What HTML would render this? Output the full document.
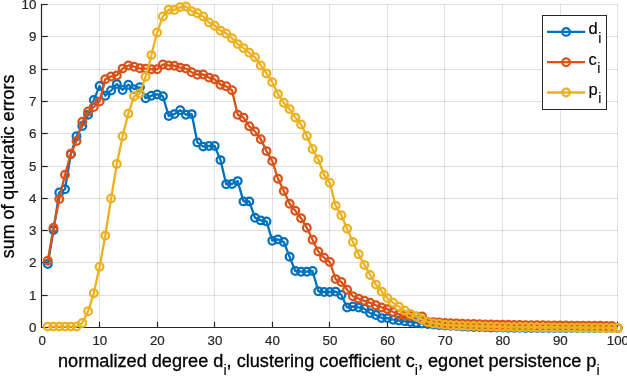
<!DOCTYPE html>
<html><head><meta charset="utf-8"><title>plot</title>
<style>
html,body{margin:0;padding:0;background:#fff;}
body{width:627px;height:376px;overflow:hidden;}
svg{display:block;font-family:"Liberation Sans",Arial,Helvetica,sans-serif;}
.t{font-size:13.33px;fill:#262626;stroke:#262626;stroke-width:0.2px;}
.l{font-size:18.15px;fill:#000;stroke:#000;stroke-width:0.3px;}
.s{font-size:14.2px;stroke-width:0.1px;}
.lg{font-size:16.5px;fill:#000;stroke:#000;stroke-width:0.15px;}
</style></head><body>
<svg width="627" height="376" viewBox="0 0 627 376">
<rect width="627" height="376" fill="#fff"/>
<g stroke="#262626" stroke-opacity="0.14" stroke-width="1"><line x1="99.5" y1="4.5" x2="99.5" y2="327.5"/><line x1="157.5" y1="4.5" x2="157.5" y2="327.5"/><line x1="214.5" y1="4.5" x2="214.5" y2="327.5"/><line x1="272.5" y1="4.5" x2="272.5" y2="327.5"/><line x1="329.5" y1="4.5" x2="329.5" y2="327.5"/><line x1="387.5" y1="4.5" x2="387.5" y2="327.5"/><line x1="444.5" y1="4.5" x2="444.5" y2="327.5"/><line x1="502.5" y1="4.5" x2="502.5" y2="327.5"/><line x1="560.5" y1="4.5" x2="560.5" y2="327.5"/><line x1="617.5" y1="4.5" x2="617.5" y2="327.5"/><line x1="42.0" y1="295.5" x2="618.0" y2="295.5"/><line x1="42.0" y1="262.5" x2="618.0" y2="262.5"/><line x1="42.0" y1="230.5" x2="618.0" y2="230.5"/><line x1="42.0" y1="198.5" x2="618.0" y2="198.5"/><line x1="42.0" y1="166.5" x2="618.0" y2="166.5"/><line x1="42.0" y1="133.5" x2="618.0" y2="133.5"/><line x1="42.0" y1="101.5" x2="618.0" y2="101.5"/><line x1="42.0" y1="69.5" x2="618.0" y2="69.5"/><line x1="42.0" y1="36.5" x2="618.0" y2="36.5"/><line x1="42.0" y1="4.5" x2="618.0" y2="4.5"/></g>
<g stroke="#262626" stroke-width="1.2"><line x1="41.5" y1="4" x2="41.5" y2="328"/><line x1="41" y1="327.5" x2="618" y2="327.5"/><line x1="99.5" y1="327.5" x2="99.5" y2="321.75"/><line x1="157.5" y1="327.5" x2="157.5" y2="321.75"/><line x1="214.5" y1="327.5" x2="214.5" y2="321.75"/><line x1="272.5" y1="327.5" x2="272.5" y2="321.75"/><line x1="329.5" y1="327.5" x2="329.5" y2="321.75"/><line x1="387.5" y1="327.5" x2="387.5" y2="321.75"/><line x1="444.5" y1="327.5" x2="444.5" y2="321.75"/><line x1="502.5" y1="327.5" x2="502.5" y2="321.75"/><line x1="560.5" y1="327.5" x2="560.5" y2="321.75"/><line x1="617.5" y1="327.5" x2="617.5" y2="321.75"/><line x1="41.5" y1="327.5" x2="47.75" y2="327.5"/><line x1="41.5" y1="295.5" x2="47.75" y2="295.5"/><line x1="41.5" y1="262.5" x2="47.75" y2="262.5"/><line x1="41.5" y1="230.5" x2="47.75" y2="230.5"/><line x1="41.5" y1="198.5" x2="47.75" y2="198.5"/><line x1="41.5" y1="166.5" x2="47.75" y2="166.5"/><line x1="41.5" y1="133.5" x2="47.75" y2="133.5"/><line x1="41.5" y1="101.5" x2="47.75" y2="101.5"/><line x1="41.5" y1="69.5" x2="47.75" y2="69.5"/><line x1="41.5" y1="36.5" x2="47.75" y2="36.5"/><line x1="41.5" y1="4.5" x2="47.75" y2="4.5"/></g>
<polyline fill="none" stroke="#0072bd" stroke-width="2.3" stroke-linejoin="round" points="47.8,263.9 53.5,230.1 59.3,192.4 65.0,189.2 70.8,154.3 76.5,136.3 82.3,126.0 88.1,114.7 93.8,99.9 99.6,86.0 105.3,95.7 111.1,90.5 116.8,84.1 122.6,89.9 128.4,84.7 134.1,89.2 139.9,87.3 145.6,98.3 151.4,95.7 157.1,94.4 162.9,96.3 168.7,116.0 174.4,114.1 180.2,110.2 185.9,114.7 191.7,114.1 197.4,142.4 203.2,146.6 209.0,146.0 214.7,146.0 220.5,160.1 226.2,184.3 232.0,184.0 237.7,181.1 243.5,201.4 249.3,201.4 255.0,217.8 260.8,220.4 266.5,221.4 272.3,240.7 278.0,239.4 283.8,242.0 289.6,256.8 295.3,271.0 301.1,271.7 306.8,271.7 312.6,271.0 318.3,291.3 324.1,292.0 329.8,292.0 335.6,291.6 341.4,294.9 347.1,307.4 352.9,306.5 358.6,307.4 364.4,308.7 370.1,313.1 375.9,315.0 381.7,318.1 387.4,318.1 393.2,319.7 398.9,320.5 404.7,321.3 410.4,321.9 416.2,322.7 422.0,323.4 427.7,324.0 433.5,324.5 439.2,325.0 445.0,325.5 450.7,325.8 456.5,326.1 462.3,326.5 468.0,326.8 473.8,326.9 479.5,327.1 485.3,327.3 491.0,327.4 496.8,327.5 502.6,327.6 508.3,327.7 514.1,327.8 519.8,327.8 525.6,327.9 531.3,327.9 537.1,328.0 542.9,328.0 548.6,328.0 554.4,328.0 560.1,328.1 565.9,328.1 571.6,328.1 577.4,328.1 583.2,328.1 588.9,328.1 594.7,328.1 600.4,328.1 606.2,328.1 611.9,328.1 617.7,328.1"/>
<g fill="none" stroke="#0072bd" stroke-width="2.25"><circle cx="47.8" cy="263.9" r="3.85"/><circle cx="53.5" cy="230.1" r="3.85"/><circle cx="59.3" cy="192.4" r="3.85"/><circle cx="65.0" cy="189.2" r="3.85"/><circle cx="70.8" cy="154.3" r="3.85"/><circle cx="76.5" cy="136.3" r="3.85"/><circle cx="82.3" cy="126.0" r="3.85"/><circle cx="88.1" cy="114.7" r="3.85"/><circle cx="93.8" cy="99.9" r="3.85"/><circle cx="99.6" cy="86.0" r="3.85"/><circle cx="105.3" cy="95.7" r="3.85"/><circle cx="111.1" cy="90.5" r="3.85"/><circle cx="116.8" cy="84.1" r="3.85"/><circle cx="122.6" cy="89.9" r="3.85"/><circle cx="128.4" cy="84.7" r="3.85"/><circle cx="134.1" cy="89.2" r="3.85"/><circle cx="139.9" cy="87.3" r="3.85"/><circle cx="145.6" cy="98.3" r="3.85"/><circle cx="151.4" cy="95.7" r="3.85"/><circle cx="157.1" cy="94.4" r="3.85"/><circle cx="162.9" cy="96.3" r="3.85"/><circle cx="168.7" cy="116.0" r="3.85"/><circle cx="174.4" cy="114.1" r="3.85"/><circle cx="180.2" cy="110.2" r="3.85"/><circle cx="185.9" cy="114.7" r="3.85"/><circle cx="191.7" cy="114.1" r="3.85"/><circle cx="197.4" cy="142.4" r="3.85"/><circle cx="203.2" cy="146.6" r="3.85"/><circle cx="209.0" cy="146.0" r="3.85"/><circle cx="214.7" cy="146.0" r="3.85"/><circle cx="220.5" cy="160.1" r="3.85"/><circle cx="226.2" cy="184.3" r="3.85"/><circle cx="232.0" cy="184.0" r="3.85"/><circle cx="237.7" cy="181.1" r="3.85"/><circle cx="243.5" cy="201.4" r="3.85"/><circle cx="249.3" cy="201.4" r="3.85"/><circle cx="255.0" cy="217.8" r="3.85"/><circle cx="260.8" cy="220.4" r="3.85"/><circle cx="266.5" cy="221.4" r="3.85"/><circle cx="272.3" cy="240.7" r="3.85"/><circle cx="278.0" cy="239.4" r="3.85"/><circle cx="283.8" cy="242.0" r="3.85"/><circle cx="289.6" cy="256.8" r="3.85"/><circle cx="295.3" cy="271.0" r="3.85"/><circle cx="301.1" cy="271.7" r="3.85"/><circle cx="306.8" cy="271.7" r="3.85"/><circle cx="312.6" cy="271.0" r="3.85"/><circle cx="318.3" cy="291.3" r="3.85"/><circle cx="324.1" cy="292.0" r="3.85"/><circle cx="329.8" cy="292.0" r="3.85"/><circle cx="335.6" cy="291.6" r="3.85"/><circle cx="341.4" cy="294.9" r="3.85"/><circle cx="347.1" cy="307.4" r="3.85"/><circle cx="352.9" cy="306.5" r="3.85"/><circle cx="358.6" cy="307.4" r="3.85"/><circle cx="364.4" cy="308.7" r="3.85"/><circle cx="370.1" cy="313.1" r="3.85"/><circle cx="375.9" cy="315.0" r="3.85"/><circle cx="381.7" cy="318.1" r="3.85"/><circle cx="387.4" cy="318.1" r="3.85"/><circle cx="393.2" cy="319.7" r="3.85"/><circle cx="398.9" cy="320.5" r="3.85"/><circle cx="404.7" cy="321.3" r="3.85"/><circle cx="410.4" cy="321.9" r="3.85"/><circle cx="416.2" cy="322.7" r="3.85"/><circle cx="422.0" cy="323.4" r="3.85"/><circle cx="427.7" cy="324.0" r="3.85"/><circle cx="433.5" cy="324.5" r="3.85"/><circle cx="439.2" cy="325.0" r="3.85"/><circle cx="445.0" cy="325.5" r="3.85"/><circle cx="450.7" cy="325.8" r="3.85"/><circle cx="456.5" cy="326.1" r="3.85"/><circle cx="462.3" cy="326.5" r="3.85"/><circle cx="468.0" cy="326.8" r="3.85"/><circle cx="473.8" cy="326.9" r="3.85"/><circle cx="479.5" cy="327.1" r="3.85"/><circle cx="485.3" cy="327.3" r="3.85"/><circle cx="491.0" cy="327.4" r="3.85"/><circle cx="496.8" cy="327.5" r="3.85"/><circle cx="502.6" cy="327.6" r="3.85"/><circle cx="508.3" cy="327.7" r="3.85"/><circle cx="514.1" cy="327.8" r="3.85"/><circle cx="519.8" cy="327.8" r="3.85"/><circle cx="525.6" cy="327.9" r="3.85"/><circle cx="531.3" cy="327.9" r="3.85"/><circle cx="537.1" cy="328.0" r="3.85"/><circle cx="542.9" cy="328.0" r="3.85"/><circle cx="548.6" cy="328.0" r="3.85"/><circle cx="554.4" cy="328.0" r="3.85"/><circle cx="560.1" cy="328.1" r="3.85"/><circle cx="565.9" cy="328.1" r="3.85"/><circle cx="571.6" cy="328.1" r="3.85"/><circle cx="577.4" cy="328.1" r="3.85"/><circle cx="583.2" cy="328.1" r="3.85"/><circle cx="588.9" cy="328.1" r="3.85"/><circle cx="594.7" cy="328.1" r="3.85"/><circle cx="600.4" cy="328.1" r="3.85"/><circle cx="606.2" cy="328.1" r="3.85"/><circle cx="611.9" cy="328.1" r="3.85"/><circle cx="617.7" cy="328.1" r="3.85"/></g>
<polyline fill="none" stroke="#d95319" stroke-width="2.3" stroke-linejoin="round" points="47.8,260.7 53.5,227.8 59.3,199.1 65.0,174.7 70.8,153.7 76.5,141.1 82.3,121.8 88.1,111.5 93.8,107.0 99.6,101.5 105.3,79.3 111.1,76.4 116.8,75.4 122.6,68.6 128.4,65.4 134.1,66.7 139.9,68.3 145.6,68.6 151.4,69.3 157.1,69.3 162.9,64.4 168.7,65.4 174.4,65.7 180.2,67.6 185.9,68.6 191.7,72.2 197.4,74.7 203.2,74.4 209.0,77.6 214.7,79.3 220.5,84.7 226.2,86.3 232.0,90.2 237.7,114.7 243.5,117.6 249.3,126.3 255.0,131.5 260.8,139.2 266.5,151.1 272.3,161.1 278.0,178.8 283.8,191.1 289.6,203.7 295.3,210.7 301.1,218.2 306.8,227.8 312.6,239.8 318.3,251.4 324.1,257.8 329.8,262.0 335.6,279.1 341.4,282.0 347.1,289.7 352.9,296.2 358.6,298.6 364.4,300.8 370.1,302.8 375.9,305.3 381.7,307.4 387.4,309.1 393.2,312.0 398.9,314.2 404.7,315.8 410.4,316.1 416.2,316.5 422.0,316.5 427.7,321.6 433.5,322.1 439.2,322.4 445.0,322.9 450.7,323.2 456.5,323.4 462.3,323.6 468.0,323.9 473.8,324.0 479.5,324.2 485.3,324.4 491.0,324.5 496.8,324.6 502.6,324.8 508.3,324.8 514.1,324.9 519.8,325.0 525.6,325.1 531.3,325.1 537.1,325.2 542.9,325.3 548.6,325.4 554.4,325.4 560.1,325.5 565.9,325.5 571.6,325.6 577.4,325.6 583.2,325.7 588.9,325.7 594.7,325.8 600.4,325.8 606.2,325.9 611.9,325.9 617.7,328.0"/>
<g fill="none" stroke="#d95319" stroke-width="2.25"><circle cx="47.8" cy="260.7" r="3.85"/><circle cx="53.5" cy="227.8" r="3.85"/><circle cx="59.3" cy="199.1" r="3.85"/><circle cx="65.0" cy="174.7" r="3.85"/><circle cx="70.8" cy="153.7" r="3.85"/><circle cx="76.5" cy="141.1" r="3.85"/><circle cx="82.3" cy="121.8" r="3.85"/><circle cx="88.1" cy="111.5" r="3.85"/><circle cx="93.8" cy="107.0" r="3.85"/><circle cx="99.6" cy="101.5" r="3.85"/><circle cx="105.3" cy="79.3" r="3.85"/><circle cx="111.1" cy="76.4" r="3.85"/><circle cx="116.8" cy="75.4" r="3.85"/><circle cx="122.6" cy="68.6" r="3.85"/><circle cx="128.4" cy="65.4" r="3.85"/><circle cx="134.1" cy="66.7" r="3.85"/><circle cx="139.9" cy="68.3" r="3.85"/><circle cx="145.6" cy="68.6" r="3.85"/><circle cx="151.4" cy="69.3" r="3.85"/><circle cx="157.1" cy="69.3" r="3.85"/><circle cx="162.9" cy="64.4" r="3.85"/><circle cx="168.7" cy="65.4" r="3.85"/><circle cx="174.4" cy="65.7" r="3.85"/><circle cx="180.2" cy="67.6" r="3.85"/><circle cx="185.9" cy="68.6" r="3.85"/><circle cx="191.7" cy="72.2" r="3.85"/><circle cx="197.4" cy="74.7" r="3.85"/><circle cx="203.2" cy="74.4" r="3.85"/><circle cx="209.0" cy="77.6" r="3.85"/><circle cx="214.7" cy="79.3" r="3.85"/><circle cx="220.5" cy="84.7" r="3.85"/><circle cx="226.2" cy="86.3" r="3.85"/><circle cx="232.0" cy="90.2" r="3.85"/><circle cx="237.7" cy="114.7" r="3.85"/><circle cx="243.5" cy="117.6" r="3.85"/><circle cx="249.3" cy="126.3" r="3.85"/><circle cx="255.0" cy="131.5" r="3.85"/><circle cx="260.8" cy="139.2" r="3.85"/><circle cx="266.5" cy="151.1" r="3.85"/><circle cx="272.3" cy="161.1" r="3.85"/><circle cx="278.0" cy="178.8" r="3.85"/><circle cx="283.8" cy="191.1" r="3.85"/><circle cx="289.6" cy="203.7" r="3.85"/><circle cx="295.3" cy="210.7" r="3.85"/><circle cx="301.1" cy="218.2" r="3.85"/><circle cx="306.8" cy="227.8" r="3.85"/><circle cx="312.6" cy="239.8" r="3.85"/><circle cx="318.3" cy="251.4" r="3.85"/><circle cx="324.1" cy="257.8" r="3.85"/><circle cx="329.8" cy="262.0" r="3.85"/><circle cx="335.6" cy="279.1" r="3.85"/><circle cx="341.4" cy="282.0" r="3.85"/><circle cx="347.1" cy="289.7" r="3.85"/><circle cx="352.9" cy="296.2" r="3.85"/><circle cx="358.6" cy="298.6" r="3.85"/><circle cx="364.4" cy="300.8" r="3.85"/><circle cx="370.1" cy="302.8" r="3.85"/><circle cx="375.9" cy="305.3" r="3.85"/><circle cx="381.7" cy="307.4" r="3.85"/><circle cx="387.4" cy="309.1" r="3.85"/><circle cx="393.2" cy="312.0" r="3.85"/><circle cx="398.9" cy="314.2" r="3.85"/><circle cx="404.7" cy="315.8" r="3.85"/><circle cx="410.4" cy="316.1" r="3.85"/><circle cx="416.2" cy="316.5" r="3.85"/><circle cx="422.0" cy="316.5" r="3.85"/><circle cx="427.7" cy="321.6" r="3.85"/><circle cx="433.5" cy="322.1" r="3.85"/><circle cx="439.2" cy="322.4" r="3.85"/><circle cx="445.0" cy="322.9" r="3.85"/><circle cx="450.7" cy="323.2" r="3.85"/><circle cx="456.5" cy="323.4" r="3.85"/><circle cx="462.3" cy="323.6" r="3.85"/><circle cx="468.0" cy="323.9" r="3.85"/><circle cx="473.8" cy="324.0" r="3.85"/><circle cx="479.5" cy="324.2" r="3.85"/><circle cx="485.3" cy="324.4" r="3.85"/><circle cx="491.0" cy="324.5" r="3.85"/><circle cx="496.8" cy="324.6" r="3.85"/><circle cx="502.6" cy="324.8" r="3.85"/><circle cx="508.3" cy="324.8" r="3.85"/><circle cx="514.1" cy="324.9" r="3.85"/><circle cx="519.8" cy="325.0" r="3.85"/><circle cx="525.6" cy="325.1" r="3.85"/><circle cx="531.3" cy="325.1" r="3.85"/><circle cx="537.1" cy="325.2" r="3.85"/><circle cx="542.9" cy="325.3" r="3.85"/><circle cx="548.6" cy="325.4" r="3.85"/><circle cx="554.4" cy="325.4" r="3.85"/><circle cx="560.1" cy="325.5" r="3.85"/><circle cx="565.9" cy="325.5" r="3.85"/><circle cx="571.6" cy="325.6" r="3.85"/><circle cx="577.4" cy="325.6" r="3.85"/><circle cx="583.2" cy="325.7" r="3.85"/><circle cx="588.9" cy="325.7" r="3.85"/><circle cx="594.7" cy="325.8" r="3.85"/><circle cx="600.4" cy="325.8" r="3.85"/><circle cx="606.2" cy="325.9" r="3.85"/><circle cx="611.9" cy="325.9" r="3.85"/><circle cx="617.7" cy="328.0" r="3.85"/></g>
<polyline fill="none" stroke="#edb120" stroke-width="2.3" stroke-linejoin="round" points="47.8,326.6 53.5,326.6 59.3,326.6 65.0,326.6 70.8,326.6 76.5,326.5 82.3,322.9 88.1,311.3 93.8,293.3 99.6,266.8 105.3,235.6 111.1,198.5 116.8,164.0 122.6,136.3 128.4,113.4 134.1,96.3 139.9,93.4 145.6,76.7 151.4,55.1 157.1,32.5 162.9,16.4 168.7,9.6 174.4,10.0 180.2,7.1 185.9,6.4 191.7,11.2 197.4,13.2 203.2,16.4 209.0,22.5 214.7,25.7 220.5,30.6 226.2,33.5 232.0,38.3 237.7,44.1 243.5,48.1 249.3,52.8 255.0,57.3 260.8,65.4 266.5,73.4 272.3,82.2 278.0,94.1 283.8,102.8 289.6,109.1 295.3,117.6 301.1,124.4 306.8,136.0 312.6,149.0 318.3,159.5 324.1,175.0 329.8,182.7 335.6,205.6 341.4,215.3 347.1,228.8 352.9,241.9 358.6,254.3 364.4,264.9 370.1,274.9 375.9,284.6 381.7,291.6 387.4,298.1 393.2,302.8 398.9,306.6 404.7,310.5 410.4,313.9 416.2,316.6 422.0,319.5 427.7,321.9 433.5,323.4 439.2,324.0 445.0,324.8 450.7,325.2 456.5,325.5 462.3,325.7 468.0,326.0 473.8,326.1 479.5,326.3 485.3,326.5 491.0,326.6 496.8,326.8 502.6,326.9 508.3,327.0 514.1,327.1 519.8,327.2 525.6,327.3 531.3,327.3 537.1,327.4 542.9,327.5 548.6,327.5 554.4,327.5 560.1,327.6 565.9,327.6 571.6,327.7 577.4,327.7 583.2,327.8 588.9,327.8 594.7,327.8 600.4,327.9 606.2,327.9 611.9,328.0 617.7,328.0"/>
<g fill="none" stroke="#edb120" stroke-width="2.25"><circle cx="47.8" cy="326.6" r="3.85"/><circle cx="53.5" cy="326.6" r="3.85"/><circle cx="59.3" cy="326.6" r="3.85"/><circle cx="65.0" cy="326.6" r="3.85"/><circle cx="70.8" cy="326.6" r="3.85"/><circle cx="76.5" cy="326.5" r="3.85"/><circle cx="82.3" cy="322.9" r="3.85"/><circle cx="88.1" cy="311.3" r="3.85"/><circle cx="93.8" cy="293.3" r="3.85"/><circle cx="99.6" cy="266.8" r="3.85"/><circle cx="105.3" cy="235.6" r="3.85"/><circle cx="111.1" cy="198.5" r="3.85"/><circle cx="116.8" cy="164.0" r="3.85"/><circle cx="122.6" cy="136.3" r="3.85"/><circle cx="128.4" cy="113.4" r="3.85"/><circle cx="134.1" cy="96.3" r="3.85"/><circle cx="139.9" cy="93.4" r="3.85"/><circle cx="145.6" cy="76.7" r="3.85"/><circle cx="151.4" cy="55.1" r="3.85"/><circle cx="157.1" cy="32.5" r="3.85"/><circle cx="162.9" cy="16.4" r="3.85"/><circle cx="168.7" cy="9.6" r="3.85"/><circle cx="174.4" cy="10.0" r="3.85"/><circle cx="180.2" cy="7.1" r="3.85"/><circle cx="185.9" cy="6.4" r="3.85"/><circle cx="191.7" cy="11.2" r="3.85"/><circle cx="197.4" cy="13.2" r="3.85"/><circle cx="203.2" cy="16.4" r="3.85"/><circle cx="209.0" cy="22.5" r="3.85"/><circle cx="214.7" cy="25.7" r="3.85"/><circle cx="220.5" cy="30.6" r="3.85"/><circle cx="226.2" cy="33.5" r="3.85"/><circle cx="232.0" cy="38.3" r="3.85"/><circle cx="237.7" cy="44.1" r="3.85"/><circle cx="243.5" cy="48.1" r="3.85"/><circle cx="249.3" cy="52.8" r="3.85"/><circle cx="255.0" cy="57.3" r="3.85"/><circle cx="260.8" cy="65.4" r="3.85"/><circle cx="266.5" cy="73.4" r="3.85"/><circle cx="272.3" cy="82.2" r="3.85"/><circle cx="278.0" cy="94.1" r="3.85"/><circle cx="283.8" cy="102.8" r="3.85"/><circle cx="289.6" cy="109.1" r="3.85"/><circle cx="295.3" cy="117.6" r="3.85"/><circle cx="301.1" cy="124.4" r="3.85"/><circle cx="306.8" cy="136.0" r="3.85"/><circle cx="312.6" cy="149.0" r="3.85"/><circle cx="318.3" cy="159.5" r="3.85"/><circle cx="324.1" cy="175.0" r="3.85"/><circle cx="329.8" cy="182.7" r="3.85"/><circle cx="335.6" cy="205.6" r="3.85"/><circle cx="341.4" cy="215.3" r="3.85"/><circle cx="347.1" cy="228.8" r="3.85"/><circle cx="352.9" cy="241.9" r="3.85"/><circle cx="358.6" cy="254.3" r="3.85"/><circle cx="364.4" cy="264.9" r="3.85"/><circle cx="370.1" cy="274.9" r="3.85"/><circle cx="375.9" cy="284.6" r="3.85"/><circle cx="381.7" cy="291.6" r="3.85"/><circle cx="387.4" cy="298.1" r="3.85"/><circle cx="393.2" cy="302.8" r="3.85"/><circle cx="398.9" cy="306.6" r="3.85"/><circle cx="404.7" cy="310.5" r="3.85"/><circle cx="410.4" cy="313.9" r="3.85"/><circle cx="416.2" cy="316.6" r="3.85"/><circle cx="422.0" cy="319.5" r="3.85"/><circle cx="427.7" cy="321.9" r="3.85"/><circle cx="433.5" cy="323.4" r="3.85"/><circle cx="439.2" cy="324.0" r="3.85"/><circle cx="445.0" cy="324.8" r="3.85"/><circle cx="450.7" cy="325.2" r="3.85"/><circle cx="456.5" cy="325.5" r="3.85"/><circle cx="462.3" cy="325.7" r="3.85"/><circle cx="468.0" cy="326.0" r="3.85"/><circle cx="473.8" cy="326.1" r="3.85"/><circle cx="479.5" cy="326.3" r="3.85"/><circle cx="485.3" cy="326.5" r="3.85"/><circle cx="491.0" cy="326.6" r="3.85"/><circle cx="496.8" cy="326.8" r="3.85"/><circle cx="502.6" cy="326.9" r="3.85"/><circle cx="508.3" cy="327.0" r="3.85"/><circle cx="514.1" cy="327.1" r="3.85"/><circle cx="519.8" cy="327.2" r="3.85"/><circle cx="525.6" cy="327.3" r="3.85"/><circle cx="531.3" cy="327.3" r="3.85"/><circle cx="537.1" cy="327.4" r="3.85"/><circle cx="542.9" cy="327.5" r="3.85"/><circle cx="548.6" cy="327.5" r="3.85"/><circle cx="554.4" cy="327.5" r="3.85"/><circle cx="560.1" cy="327.6" r="3.85"/><circle cx="565.9" cy="327.6" r="3.85"/><circle cx="571.6" cy="327.7" r="3.85"/><circle cx="577.4" cy="327.7" r="3.85"/><circle cx="583.2" cy="327.8" r="3.85"/><circle cx="588.9" cy="327.8" r="3.85"/><circle cx="594.7" cy="327.8" r="3.85"/><circle cx="600.4" cy="327.9" r="3.85"/><circle cx="606.2" cy="327.9" r="3.85"/><circle cx="611.9" cy="328.0" r="3.85"/><circle cx="617.7" cy="328.0" r="3.85"/></g>
<g class="t" text-anchor="middle"><text x="42.2" y="345.3">0</text><text x="99.8" y="345.3">10</text><text x="157.3" y="345.3">20</text><text x="214.9" y="345.3">30</text><text x="272.5" y="345.3">40</text><text x="330.0" y="345.3">50</text><text x="387.6" y="345.3">60</text><text x="445.2" y="345.3">70</text><text x="502.8" y="345.3">80</text><text x="560.3" y="345.3">90</text><text x="617.9" y="345.3">100</text></g>
<g class="t" text-anchor="end"><text x="36.4" y="332.4">0</text><text x="36.4" y="300.4">1</text><text x="36.4" y="267.4">2</text><text x="36.4" y="235.4">3</text><text x="36.4" y="203.4">4</text><text x="36.4" y="171.4">5</text><text x="36.4" y="138.4">6</text><text x="36.4" y="106.4">7</text><text x="36.4" y="74.4">8</text><text x="36.4" y="41.4">9</text><text x="36.4" y="9.4">10</text></g>
<text class="l" x="58" y="367.1">normalized degree d<tspan class="s" dy="8.3">i</tspan><tspan dy="-8.3">, clustering coefficient c</tspan><tspan class="s" dy="8.3">i</tspan><tspan dy="-8.3">, egonet persistence p</tspan><tspan class="s" dy="8.3">i</tspan></text>
<text class="l" style="font-size:17.85px" text-anchor="middle" transform="translate(13.7,166.4) rotate(-90)">sum of quadratic errors</text>
<rect x="542.5" y="15.5" width="64" height="94" fill="#fff" stroke="#262626" stroke-width="1"/>
<line x1="547" y1="31.9" x2="585.2" y2="31.9" stroke="#0072bd" stroke-width="2.3"/><circle cx="566.1" cy="31.9" r="3.8" fill="none" stroke="#0072bd" stroke-width="2.25"/><text class="lg" x="588.5" y="34.2">d<tspan class="s" dx="0.5" dy="8.5">i</tspan></text>
<line x1="547" y1="62.2" x2="585.2" y2="62.2" stroke="#d95319" stroke-width="2.3"/><circle cx="566.1" cy="62.2" r="3.8" fill="none" stroke="#d95319" stroke-width="2.25"/><text class="lg" x="588.5" y="64.5">c<tspan class="s" dx="0.5" dy="8.5">i</tspan></text>
<line x1="547" y1="92.5" x2="585.2" y2="92.5" stroke="#edb120" stroke-width="2.3"/><circle cx="566.1" cy="92.5" r="3.8" fill="none" stroke="#edb120" stroke-width="2.25"/><text class="lg" x="588.5" y="94.8">p<tspan class="s" dx="0.5" dy="8.5">i</tspan></text>
</svg></body></html>
